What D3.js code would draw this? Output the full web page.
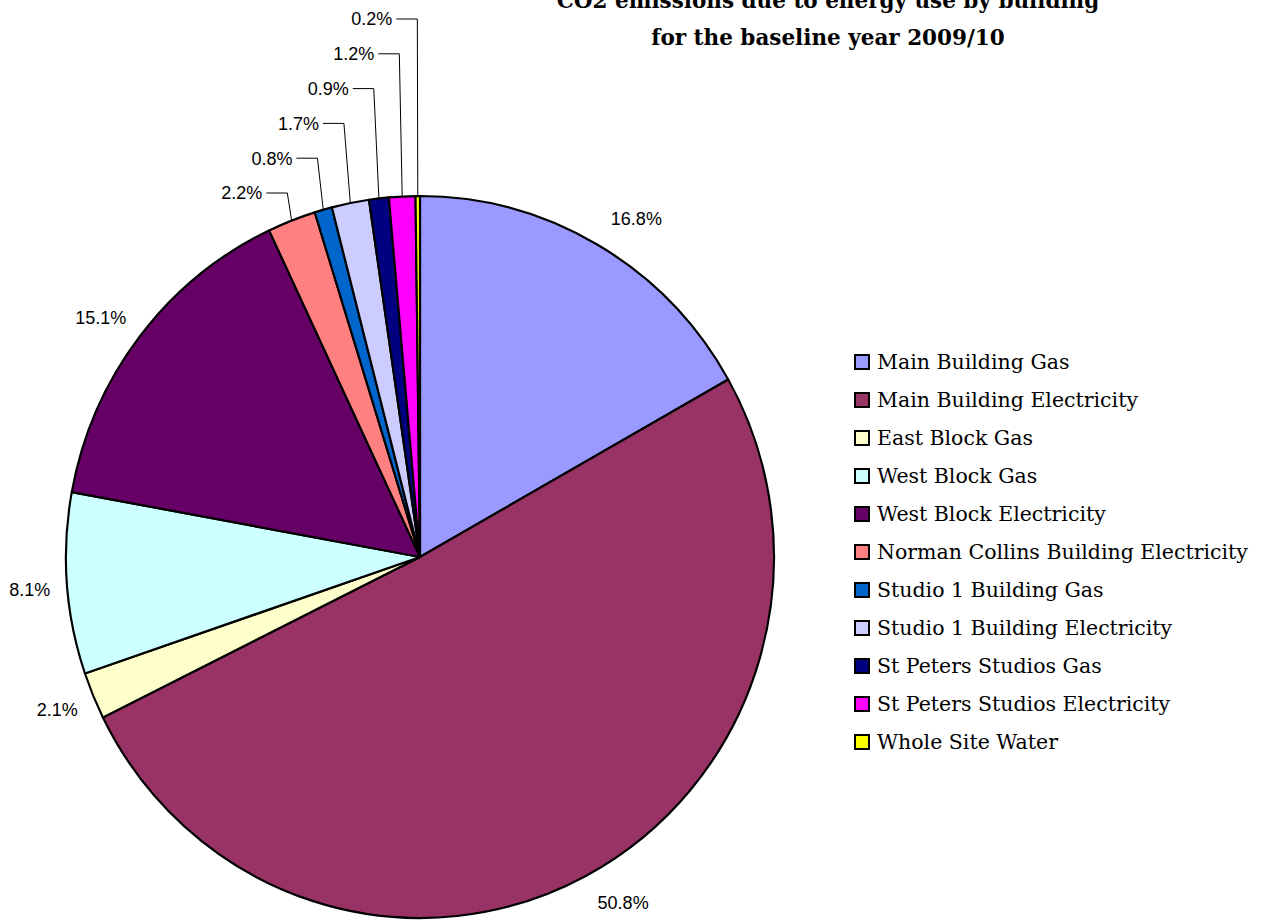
<!DOCTYPE html>
<html><head><meta charset="utf-8">
<script src="https://cdn.jsdelivr.net/npm/d3@7"></script>
<style>body{margin:0;background:#fff}svg{display:block}</style>
</head><body><svg id="c" width="1263" height="920"></svg>
<script>
const categories = ["Main Building Gas","Main Building Electricity","East Block Gas","West Block Gas","West Block Electricity","Norman Collins Building Electricity","Studio 1 Building Gas","Studio 1 Building Electricity","St Peters Studios Gas","St Peters Studios Electricity","Whole Site Water"];
const values = [16.8,50.8,2.1,8.1,15.1,2.2,0.8,1.7,0.9,1.2,0.2];
const colors = ["#9999FF","#993366","#FFFFCC","#CCFFFF","#660066","#FF8080","#0066CC","#CCCCFF","#000080","#FF00FF","#FFFF00"];
const titleLines = ["CO2 emissions due to energy use by building","for the baseline year 2009/10"];

const svg = d3.select("#c");
const cx = 420, cy = 557, ry = 361, sx = 354/361;
const pie = d3.pie().sort(null).value(d=>d)(values);
const arc = d3.arc().innerRadius(0).outerRadius(ry);

const g = svg.append("g").attr("transform",`translate(${cx},${cy}) scale(${sx},1)`);
g.selectAll("path").data(pie).join("path")
  .attr("d",arc).attr("fill",(d,i)=>colors[i])
  .attr("stroke","#000").attr("stroke-width",2.2).attr("stroke-linejoin","round");

const pt = (a,r)=>[cx + Math.sin(a)*r*sx, cy - Math.cos(a)*r];
const lab = svg.append("g").attr("font-family","'Liberation Sans',Arial,sans-serif").attr("font-size",18).attr("fill","#000");
const fmt = v=>v.toFixed(1)+"%";

const smallIdx = [5,6,7,8,9,10];
pie.forEach((d,i)=>{
  const a = (d.startAngle+d.endAngle)/2;
  if (smallIdx.includes(i)) {
    const k = smallIdx.length-1-smallIdx.indexOf(i);
    const ly = 19 + k*34.8;
    const [ex,ey] = pt(a,ry);
    const elx = ex - (ey-ly)*Math.abs(Math.tan(a))*0.4;
    const hx = elx - 21;
    lab.append("path").attr("d",`M${hx},${ly}H${elx}L${ex},${ey}`)
      .attr("fill","none").attr("stroke","#000").attr("stroke-width",1);
    lab.append("text").attr("x",hx-4).attr("y",ly).attr("dy","0.35em")
      .attr("text-anchor","end").text(fmt(values[i]));
  } else {
    const [px,py] = pt(a,ry+17);
    const s = Math.sin(a), c = Math.cos(a);
    const t = lab.append("text").text(fmt(values[i]));
    const tyc = py - c*9 - Math.sign(c)*4;
    t.attr("x",px + (s>0?4:0)).attr("y",tyc).attr("dy","0.36em").attr("text-anchor",s>0?"start":"end");
  }
});

// title
svg.append("g").attr("font-family","'DejaVu Serif',serif").attr("font-weight","bold").attr("font-size",21.5)
  .selectAll("text").data(titleLines).join("text")
  .attr("x",828).attr("y",(d,i)=>8+i*37).attr("text-anchor","middle").text(d=>d);

// legend
const leg = svg.append("g").attr("transform","translate(855,362)");
const row = leg.selectAll("g").data(categories).join("g").attr("transform",(d,i)=>`translate(0,${i*38})`);
row.append("rect").attr("x",0).attr("y",-7).attr("width",14).attr("height",14)
  .attr("fill",(d,i)=>colors[i]).attr("stroke","#000").attr("stroke-width",2);
row.append("text").attr("x",22).attr("y",0).attr("dy","0.35em")
  .attr("font-family","'DejaVu Serif',serif").attr("font-size",20.5).text(d=>d);
</script></body></html>
